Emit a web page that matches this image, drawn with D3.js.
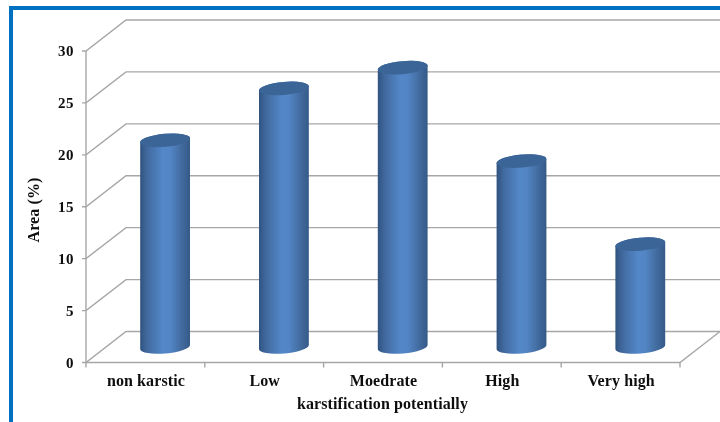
<!DOCTYPE html>
<html><head><meta charset="utf-8">
<script src="https://cdn.jsdelivr.net/npm/d3@7"></script>
<style>html,body{margin:0;padding:0;background:#fff;overflow:hidden}text{font-family:"Liberation Serif",serif;font-weight:bold;fill:#111}</style>
</head><body><svg id="c" width="720" height="422"></svg>
<script>
const categories = ["non karstic","Low","Moedrate","High","Very high"];
const values = [20,25,27,18,10];
const yTicks = [0,5,10,15,20,25,30];
const xTitle = "karstification potentially", yTitle = "Area (%)";

const svg = d3.select("#c");
const x = d3.scaleBand().domain(categories).range([86,680]);
const y = d3.scaleLinear().domain([0,30]).range([362.5,51]);
const dx = 40, dy = -31;

const defs = svg.append("defs");
const g = defs.append("linearGradient").attr("id","cyl");
[[0,"#2f5380"],[.14,"#41699e"],[.45,"#5387c8"],[.6,"#5385c5"],[.85,"#41699c"],[1,"#345a88"]]
  .forEach(s=>g.append("stop").attr("offset",s[0]).attr("stop-color",s[1]));
defs.append("filter").attr("id","soft").append("feGaussianBlur").attr("stdDeviation",0.35);

// frame
svg.append("rect").attr("x",9).attr("y",6).attr("width",711).attr("height",4).attr("fill","#0070c0");
svg.append("rect").attr("x",9).attr("y",6).attr("width",4).attr("height",416).attr("fill","#0070c0");

const root = svg.append("g").attr("filter","url(#soft)");
const wall = root.append("g").attr("stroke","#a6a6a6").attr("stroke-width",1.4).attr("fill","none");
yTicks.forEach(t=>{
  wall.append("path").attr("d",`M${x.range()[0]-4},${y(t)}L${x.range()[0]},${y(t)}L${x.range()[0]+dx},${y(t)+dy}L${x.range()[1]+dx},${y(t)+dy}`);
});
wall.append("path").attr("d",`M${x.range()[0]},${y(0)}V${y(30)}`);
wall.append("path").attr("d",`M${x.range()[0]},${y(0)}H${x.range()[1]}L${x.range()[1]+dx},${y(0)+dy}`);
categories.concat([null]).forEach(c=>{
  const px = c===null ? x.range()[1] : x(c);
  wall.append("path").attr("d",`M${px},${y(0)}v5`);
});

// cylinders
const rx = 25, ry = 6.5, rot = -5, rad = rot*Math.PI/180;
const ox = rx*Math.cos(rad), oy = -rx*Math.sin(rad);
const bars = root.append("g");
categories.forEach((c,i)=>{
  const cx = x(c)+x.bandwidth()/2+dx/2-0.3;
  const base = y(0)+dy/2, top = y(values[i])+dy/2+1;
  bars.append("path").attr("fill","url(#cyl)")
    .attr("d",`M${cx-ox},${top+oy}L${cx-ox},${base+oy}A${rx},${ry} ${rot} 0 0 ${cx+ox},${base-oy}L${cx+ox},${top-oy}A${rx},${ry} ${rot} 0 0 ${cx-ox},${top+oy}Z`);
  bars.append("ellipse").attr("transform",`translate(${cx},${top}) rotate(${rot})`)
    .attr("rx",rx).attr("ry",ry).attr("fill","#3b6596");
});

// labels
const labels = root.append("g");
const ls = "0.1px";
yTicks.forEach(t=>labels.append("text").attr("x",74).attr("y",y(t)+5).attr("text-anchor","end").attr("font-size",15).style("letter-spacing","0.5px").text(t));
categories.forEach(c=>labels.append("text").attr("x",x(c)+x.bandwidth()/2+0.5).attr("y",386).attr("text-anchor","middle").attr("font-size",16).style("letter-spacing",ls).text(c));
labels.append("text").attr("x",382.5).attr("y",409).attr("text-anchor","middle").attr("font-size",16).style("letter-spacing",ls).text(xTitle);
labels.append("text").attr("transform","translate(39,210) rotate(-90)").attr("text-anchor","middle").attr("font-size",16).style("letter-spacing",ls).text(yTitle);
</script></body></html>
